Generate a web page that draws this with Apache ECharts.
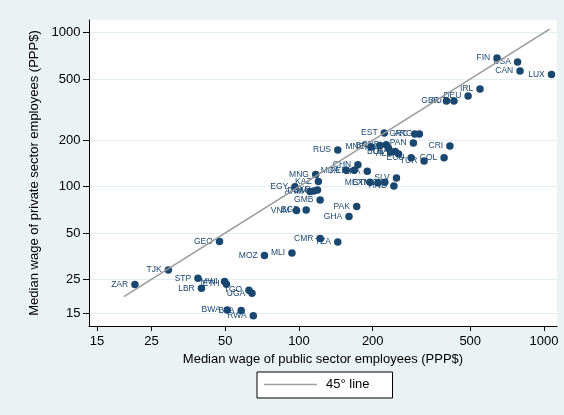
<!DOCTYPE html>
<html>
<head>
<meta charset="utf-8">
<script src="https://cdn.jsdelivr.net/npm/echarts@6/dist/echarts.min.js"></script>
<style>
html,body{margin:0;padding:0;background:#eaf2f3;}
#chart{width:564px;height:415px;}
</style>
</head>
<body>
<div id="chart"></div>
<script>
// Country codes
const countries = ['FIN','USA','CAN','LUX','IRL','DEU','AUT','GBR','EST','GRC','ARG','PAN','CRI','RUS','MNE','BRA','SRB','KSV','BOL','THA','ALB','ECU','TUR','COL','CHN','MDA','PER','LKA','MEX','GTM','NIC','SLV','HND','MNG','KAZ','UKR','DOM','ARM','EGY','GMB','VNM','BGD','PAK','GHA','CMR','TZA','MLI','MOZ','GEO','TJK','ZAR','STP','LBR','MWI','ETH','TGO','UGA','BWA','BFA','RWA'];
// Median wage of public sector employees (PPP$)
const publicWage = [643,780,798,1073,548,490,429,400,223,297,310,293,413,144,197,214,227,232,237,247,255,287,324,391,174,156,168,190,195,210,224,250,244,117,120,119,115,111,96.3,122,97.7,107,172,160,122,144,93.6,72.3,47.4,29.3,21.4,38.7,40.0,49.7,50.6,62.5,64.3,51.0,58.1,65.1];
// Median wage of private sector employees (PPP$)
const privateWage = [685,645,564,535,431,388,360,360,223,220,220,192,184,173,181,185,187,178,168,169,163,154,147,154,139,128,128,126,107,106,107,114,101,120,108,95.2,93.8,93.1,100,82,70,70.6,74.4,64.1,46.1,43.7,37.1,35.7,44.1,28.8,23.2,25.4,21.9,24.2,23.3,21.3,20.3,15.8,15.7,14.5];
// Tick labels (both axes)
const tickValues = [15,25,50,100,200,500,1000];
// 45-degree reference line end points
const lineRange = [19.3, 1055];
const lineName = '45\u00b0 line';

const lg = v => Math.log10(v);
const fmt = v => String(Math.round(Math.pow(10, v)));
const navy = '#1a476f';
const font = '"Liberation Sans", Arial, sans-serif';

const points = countries.map((c, i) => ({ name: c, value: [lg(publicWage[i]), lg(privateWage[i])] }));
const lineData = lineRange.map(v => [lg(v), lg(v)]);

const chart = echarts.init(document.getElementById('chart'), null, { renderer: 'canvas' });
chart.setOption({
  backgroundColor: '#eaf2f3',
  animation: false,
  textStyle: { fontFamily: font },
  grid: { left: 89, right: 7, top: 20, bottom: 89, show: true, backgroundColor: '#ffffff', borderWidth: 0 },
  legend: {
    data: [{ name: lineName, icon: 'path://M0,0 L40,0 L40,1 L0,1 Z' }],
    left: 257, top: 372,
    backgroundColor: '#ffffff', borderColor: '#000000', borderWidth: 1,
    padding: [6, 23, 7, 7],
    itemWidth: 53, itemHeight: 10,
    itemStyle: { color: '#a0a0a0' },
    textStyle: { fontSize: 13, color: '#000', fontFamily: font, padding: [0, 0, 0, 4] }
  },
  xAxis: {
    type: 'value',
    min: lg(13.9), max: lg(1130),
    name: 'Median wage of public sector employees (PPP$)',
    nameLocation: 'middle', nameGap: 21,
    nameTextStyle: { fontSize: 13, color: '#000', fontFamily: font },
    axisLine: { show: true, onZero: false, lineStyle: { color: '#000', width: 1 } },
    axisTick: { show: true, length: 5, lineStyle: { color: '#000' }, customValues: tickValues.map(lg) },
    axisLabel: { fontSize: 13, color: '#000', margin: 9, formatter: fmt, customValues: tickValues.map(lg) },
    splitLine: { show: false }
  },
  yAxis: {
    type: 'value',
    min: lg(12.46), max: lg(1209),
    name: 'Median wage of private sector employees (PPP$)',
    nameLocation: 'middle', nameGap: 47,
    nameTextStyle: { fontSize: 13, color: '#000', fontFamily: font },
    axisLine: { show: true, onZero: false, lineStyle: { color: '#000', width: 1 } },
    axisTick: { show: true, length: 6, lineStyle: { color: '#000' }, customValues: tickValues.map(lg) },
    axisLabel: { fontSize: 13, color: '#000', margin: 8.5, formatter: fmt, customValues: tickValues.map(lg) },
    splitLine: { show: true, lineStyle: { color: '#e4edef', width: 1 } }
  },
  series: [
    {
      type: 'scatter',
      data: points,
      symbol: 'circle',
      symbolSize: 7.5,
      itemStyle: { color: navy, opacity: 1 },
      label: {
        show: true, position: 'left', distance: 3,
        formatter: p => p.name,
        fontSize: 8.5, color: navy, fontFamily: font
      },
      z: 2
    },
    {
      type: 'line',
      name: lineName,
      data: lineData,
      symbol: 'none',
      lineStyle: { color: '#9a9a9a', width: 1.5 },
      itemStyle: { color: '#9a9a9a' },
      z: 3
    }
  ]
});
</script>
</body>
</html>
